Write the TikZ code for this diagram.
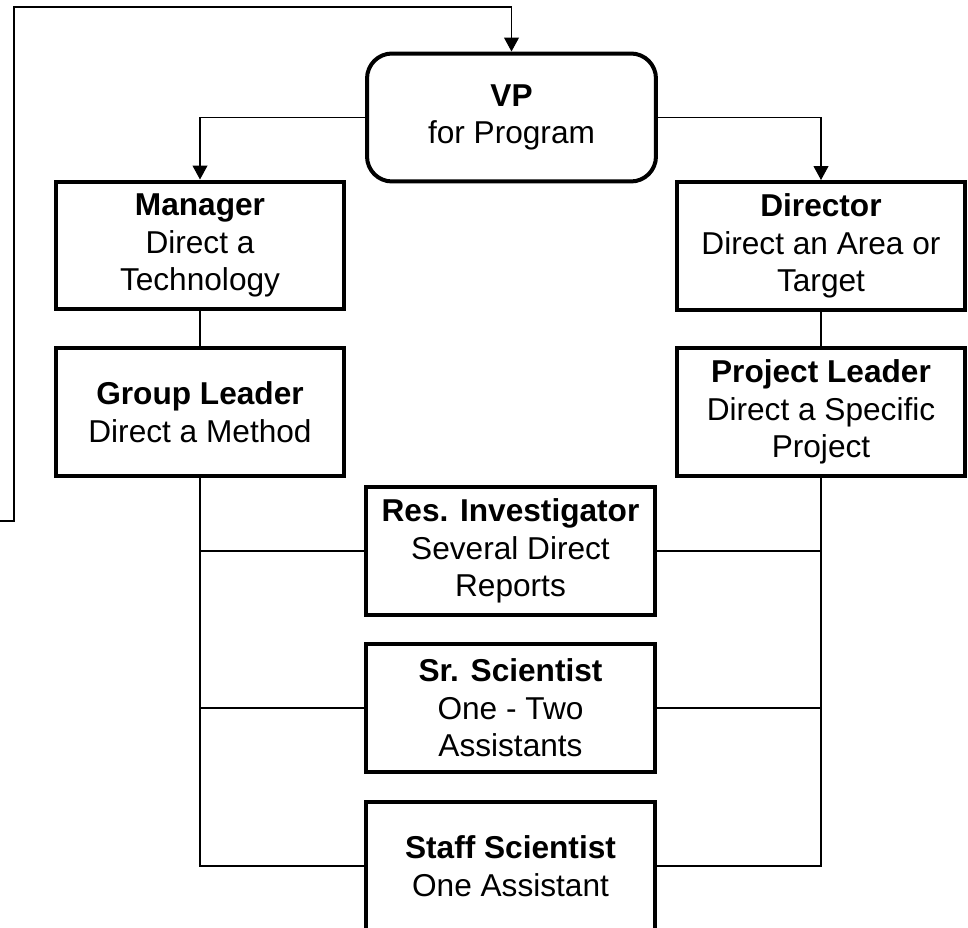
\documentclass[tikz,border=0pt]{standalone}
\usepackage{fontspec}
\setmainfont{Liberation Sans}
\usetikzlibrary{arrows.meta}

\begin{document}
\begin{tikzpicture}[x=0.02cm, y=-0.02cm,
        box/.style={draw, line width=0.08cm, minimum width=5.78cm, minimum height=2.56cm,
            align=center, inner sep=0pt, font=\fontsize{18}{21.3}\selectfont},
        vpbox/.style={box, rounded corners=0.5cm},
        link/.style={draw, line width=0.6pt},
        arrowlink/.style={link, -{Triangle[length=0.28cm, width=0.3cm]}}]
        \useasboundingbox (0,0) rectangle (968,928);

        % Top of the chart
        \node[vpbox] (vp) at (511.5,117.5) {\textbf{VP}\\for Program};

        % Left branch
        \node[box] (mgr) at (200,245.5) {\textbf{Manager}\\Direct a\\Technology};
        \node[box] (grp) at (200,412) {\textbf{Group Leader}\\Direct a Method};

        % Right branch
        \node[box] (dir) at (821,246) {\textbf{Director}\\Direct an Area or\\Target};
        \node[box] (prj) at (821,412) {\textbf{Project Leader}\\Direct a Specific\\Project};

        % Middle column
        \node[box] (res) at (510.5,551) {\textbf{Res. Investigator}\\Several Direct\\Reports};
        \node[box] (sr) at (510.5,708) {\textbf{Sr. Scientist}\\One - Two\\Assistants};
        \node[box] (staff) at (510.5,866) {\textbf{Staff Scientist}\\One Assistant};

        % VP down to both branches
        \draw[arrowlink] (vp.west) -| (mgr.north);
        \draw[arrowlink] (vp.east) -| (dir.north);
        \draw[link] (mgr) -- (grp);
        \draw[link] (dir) -- (prj);

        % Feedback line coming in from the left
        \coordinate (loop) at (0,521);
        \coordinate (corner) at (14,7);
        \draw[arrowlink] (loop) -| (corner) -| (vp.north);

        % Spines to the middle column
        \draw[link] (grp.south) |- (res.west);
        \draw[link] (grp.south) |- (sr.west);
        \draw[link] (grp.south) |- (staff.west);
        \draw[link] (prj.south) |- (res.east);
        \draw[link] (prj.south) |- (sr.east);
        \draw[link] (prj.south) |- (staff.east);
    \end{tikzpicture}
\end{document}
